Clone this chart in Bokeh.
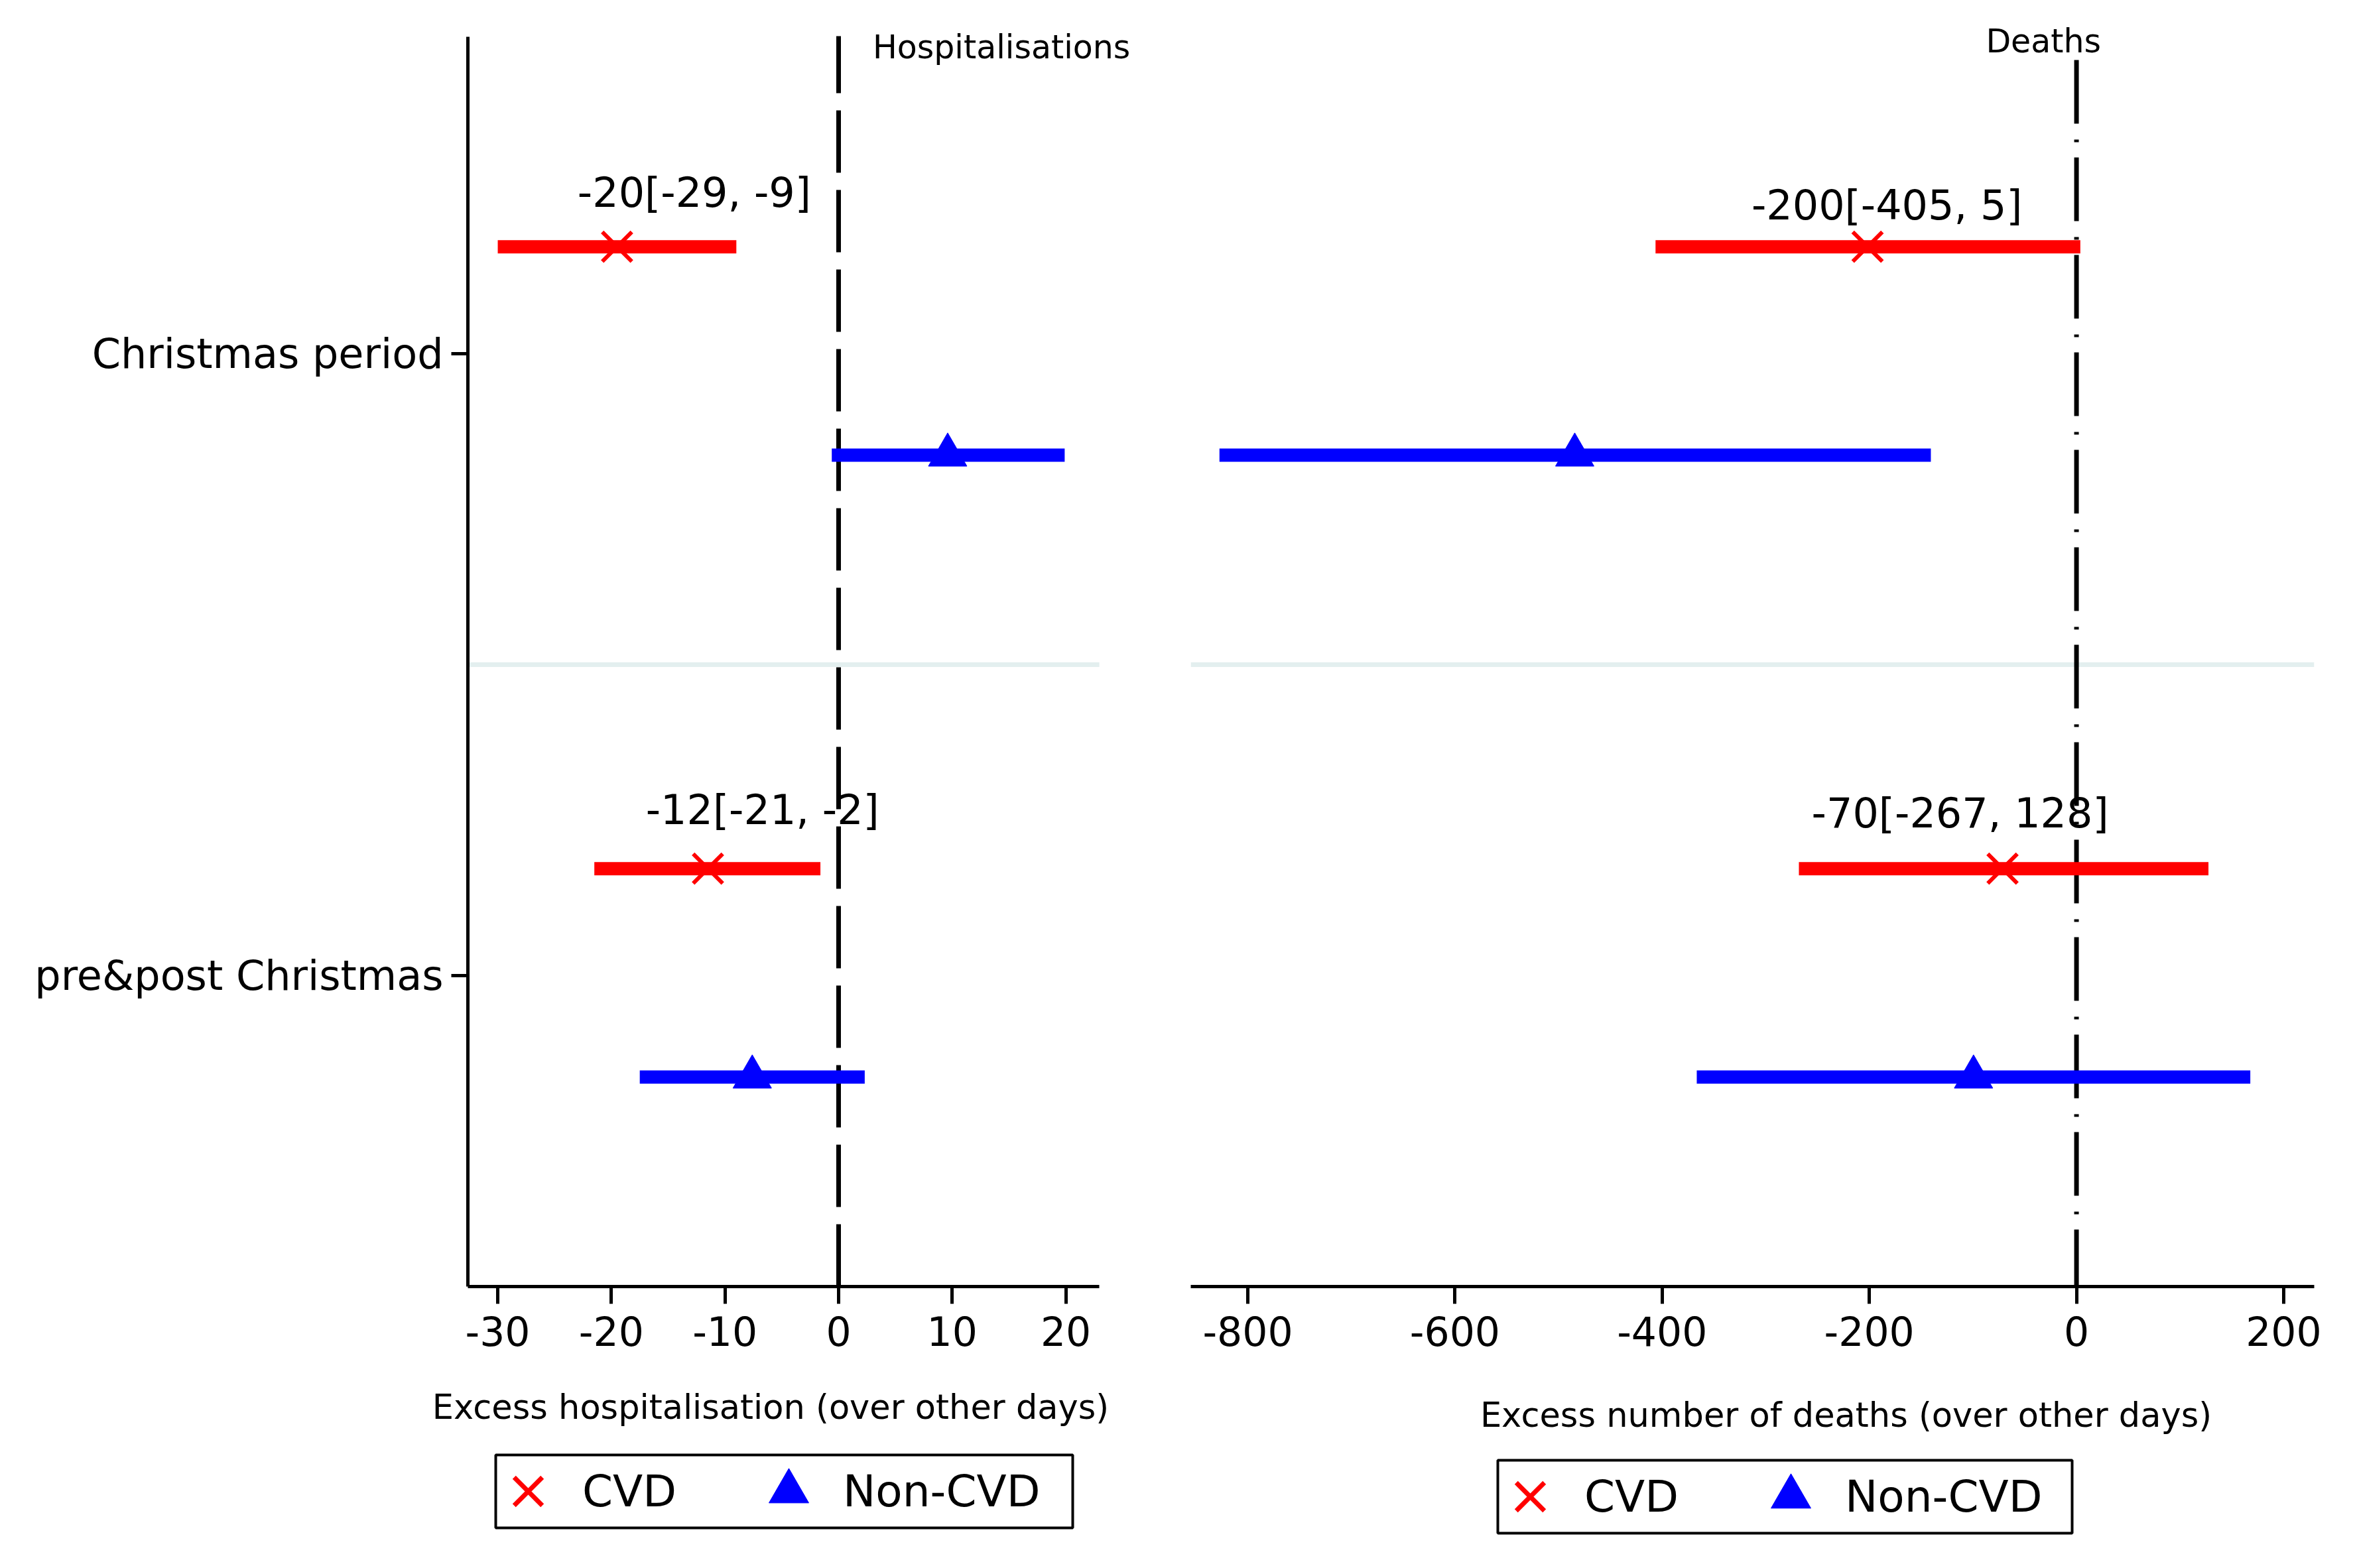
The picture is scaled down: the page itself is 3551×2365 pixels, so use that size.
from bokeh.plotting import figure
from bokeh.models import (ColumnDataSource, Range1d, FixedTicker, Label, LabelSet,
                          Legend, LegendItem, BoxAnnotation)
from bokeh.transform import dodge
from bokeh.layouts import row, column
from bokeh.embed import file_html
from bokeh.resources import INLINE
from bokeh.core.properties import value

# ---------------- data ----------------
categories = ["Christmas period", "pre&post Christmas"]
groups = ["CVD", "Non-CVD"]

hosp_cvd_est = [-19.5, -11.5]
hosp_cvd_lo = [-30.0, -21.5]
hosp_cvd_hi = [-9.0, -1.6]
hosp_non_est = [9.6, -7.6]
hosp_non_lo = [-0.6, -17.5]
hosp_non_hi = [19.9, 2.3]
hosp_labels = ["-20[-29, -9]", "-12[-21, -2]"]

death_cvd_est = [-201.7, -71.4]
death_cvd_lo = [-406.4, -268.0]
death_cvd_hi = [3.7, 127.4]
death_non_est = [-484.4, -99.4]
death_non_lo = [-827.4, -366.6]
death_non_hi = [-140.6, 167.8]
death_labels = ["-200[-405, 5]", "-70[-267, 128]"]

hosp_ticks = [-30, -20, -10, 0, 10, 20]
hosp_tick_labels = ["-30", "-20", "-10", "0", "10", "20"]
death_ticks = [-800, -600, -400, -200, 0, 200]
death_tick_labels = ["-800", "-600", "-400", "-200", "0", "200"]

# ---------------- style / layout constants ----------------
FONT = "DejaVu Sans"
COLORS = {"CVD": "#FF0000", "Non-CVD": "#0000FF"}
SEP_COLOR = "#E3EFEF"
OFF_CVD = -0.172   # CVD row sits above the category centre
OFF_NON = 0.163    # Non-CVD row below it
BAR_W = 20

# placement of the value labels (x in data units, y offset from category centre)
H_LABEL_X, H_LABEL_DY = [-12.7, -6.7], [-0.259, -0.266]
D_LABEL_X, D_LABEL_DY = [-183.0, -112.3], [-0.239, -0.261]

cat_pos = list(range(1, len(categories) + 1))   # 1 = top row
Y_BOTTOM, Y_TOP = 2.5, 0.4318                   # flipped numeric category axis
Y_AXIS_TOP = 0.4904
H_XMIN, H_XMAX, H_XVIEW = -32.63, 22.95, 27.32
D_XMIN, D_XMAX = -855.1, 229.5


def style_xaxis(p, ticks, labels, bounds):
    ax = p.xaxis[0]
    ax.ticker = FixedTicker(ticks=ticks)
    ax.major_label_overrides = {t: l for t, l in zip(ticks, labels)}
    ax.bounds = bounds
    ax.axis_line_width = 5
    ax.axis_line_color = "black"
    ax.major_tick_line_width = 5
    ax.major_tick_line_color = "black"
    ax.major_tick_out = 26
    ax.major_tick_in = 0
    ax.minor_tick_out = 0
    ax.minor_tick_in = 0
    ax.major_label_text_font = FONT
    ax.major_label_text_font_size = "60px"
    ax.major_label_text_color = "black"
    ax.major_label_standoff = 18


def make_panel(width, xr, bl, br, left_axis):
    p = figure(width=width, height=2072, x_range=xr,
               y_range=Range1d(Y_BOTTOM, Y_TOP),
               output_backend="svg", toolbar_location=None,
               min_border_left=bl, min_border_right=br,
               min_border_top=0, min_border_bottom=132,
               y_axis_location="left" if left_axis else None)
    p.outline_line_color = None
    p.grid.visible = False
    p.background_fill_color = "white"
    p.border_fill_color = "white"
    return p


def add_series(p, est, lo, hi, name, marker, size, lw, off):
    src = ColumnDataSource(dict(pos=cat_pos, est=est, lo=lo, hi=hi))
    yy = dodge("pos", off)
    p.segment(x0="lo", x1="hi", y0=yy, y1=yy, line_width=BAR_W,
              line_color=COLORS[name], line_cap="butt", source=src)
    p.scatter(x="est", y=yy, marker=marker, size=size, fill_color=COLORS[name],
              line_color=COLORS[name], line_width=lw, source=src)


def add_value_labels(p, xs, dys, texts):
    src = ColumnDataSource(dict(x=xs, y=[c + d for c, d in zip(cat_pos, dys)], text=texts))
    p.add_layout(LabelSet(x="x", y="y", text="text", source=src,
                          text_align="center", text_baseline="middle",
                          text_font=value(FONT), text_font_size="62px",
                          text_color="black"))


# ---------------- left panel: hospitalisations ----------------
p1 = make_panel(1732, Range1d(H_XMIN, H_XVIEW), 705, 0, True)
style_xaxis(p1, hosp_ticks, hosp_tick_labels, (H_XMIN, H_XMAX))
ya = p1.yaxis[0]
ya.ticker = FixedTicker(ticks=cat_pos)
ya.major_label_overrides = {pos: c for pos, c in zip(cat_pos, categories)}
ya.bounds = (Y_AXIS_TOP, Y_BOTTOM)
ya.axis_line_width = 5
ya.axis_line_color = "black"
ya.major_tick_line_width = 5
ya.major_tick_out = 25
ya.major_tick_in = 0
ya.minor_tick_out = 0
ya.minor_tick_in = 0
ya.major_label_text_font = FONT
ya.major_label_text_font_size = "62px"
ya.major_label_text_color = "black"
ya.major_label_standoff = 12

p1.segment(x0=H_XMIN, x1=H_XMAX, y0=1.5, y1=1.5, line_color=SEP_COLOR, line_width=7)
p1.segment(x0=0, x1=0, y0=0.4893, y1=Y_BOTTOM, line_color="black", line_width=7,
           line_dash="94 26", line_dash_offset=8)
add_series(p1, hosp_cvd_est, hosp_cvd_lo, hosp_cvd_hi, "CVD", "x", 63, 6, OFF_CVD)
add_series(p1, hosp_non_est, hosp_non_lo, hosp_non_hi, "Non-CVD", "triangle", 58, 1, OFF_NON)
add_value_labels(p1, H_LABEL_X, H_LABEL_DY, hosp_labels)
p1.add_layout(Label(x=3.0, y=0.5075, text="Hospitalisations", text_align="left",
                    text_baseline="alphabetic", text_font=FONT,
                    text_font_size="49px", text_color="black"))

# ---------------- right panel: deaths ----------------
p2 = make_panel(1803, Range1d(D_XMIN, D_XMAX), 63, 46, False)
style_xaxis(p2, death_ticks, death_tick_labels, (D_XMIN, D_XMAX))

p2.segment(x0=D_XMIN, x1=D_XMAX, y0=1.5, y1=1.5, line_color=SEP_COLOR, line_width=7)
p2.segment(x0=0, x1=0, y0=0.5277, y1=Y_BOTTOM, line_color="black", line_width=7,
           line_dash="96 24 4 23")
add_series(p2, death_cvd_est, death_cvd_lo, death_cvd_hi, "CVD", "x", 63, 6, OFF_CVD)
add_series(p2, death_non_est, death_non_lo, death_non_hi, "Non-CVD", "triangle", 58, 1, OFF_NON)
add_value_labels(p2, D_LABEL_X, D_LABEL_DY, death_labels)
p2.add_layout(Label(x=-87.5, y=0.4979, text="Deaths", text_align="left",
                    text_baseline="alphabetic", text_font=FONT,
                    text_font_size="49px", text_color="black"))

# ---------------- bottom strip: axis titles and legends ----------------
pl = figure(width=3535, height=277, x_range=Range1d(0, 3535), y_range=Range1d(0, 277),
            output_backend="svg", toolbar_location=None,
            min_border_left=0, min_border_right=0, min_border_top=0, min_border_bottom=0,
            x_axis_location=None, y_axis_location=None)
pl.outline_line_color = None
pl.grid.visible = False
pl.background_fill_color = "white"
pl.border_fill_color = "white"

pl.add_layout(Label(x=1161.5, y=227, text="Excess hospitalisation (over other days)",
                    text_align="center", text_baseline="middle", text_font=FONT,
                    text_font_size="51px", text_color="black"))
pl.add_layout(Label(x=2783, y=215, text="Excess number of deaths (over other days)",
                    text_align="center", text_baseline="middle", text_font=FONT,
                    text_font_size="51px", text_color="black"))

key_src = ColumnDataSource(dict(x=[0], y=[0]))
key_cvd = pl.scatter(x="x", y="y", source=key_src, marker="x",
                     line_color=COLORS["CVD"], line_width=7, visible=False)
key_non = pl.scatter(x="x", y="y", source=key_src, marker="triangle",
                     fill_color=COLORS["Non-CVD"], line_color=COLORS["Non-CVD"],
                     visible=False)


def add_legend(box, loc):
    l, r, b, t = box
    pl.add_layout(BoxAnnotation(left=l, right=r, bottom=b, top=t, fill_color=None,
                                line_color="black", line_width=4, line_alpha=1.0))
    leg = Legend(items=[LegendItem(label=groups[0], renderers=[key_cvd]),
                        LegendItem(label=groups[1], renderers=[key_non])],
                 location=loc, orientation="horizontal", click_policy="none",
                 padding=0, margin=0, spacing=0, label_width=236,
                 glyph_width=150, glyph_height=150, label_standoff=7,
                 label_text_font=FONT, label_text_font_size="66px",
                 label_text_color="black", label_text_baseline="middle",
                 border_line_color=None, background_fill_alpha=0.0,
                 inactive_fill_alpha=0.0)
    pl.add_layout(leg)


add_legend((747, 1617, 45, 155), (721, 25))
add_legend((2258, 3124, 37, 147), (2232, 17))

layout = column(row(p1, p2, spacing=0), pl, spacing=0)
open("out.html", "w").write(file_html(layout, INLINE))
